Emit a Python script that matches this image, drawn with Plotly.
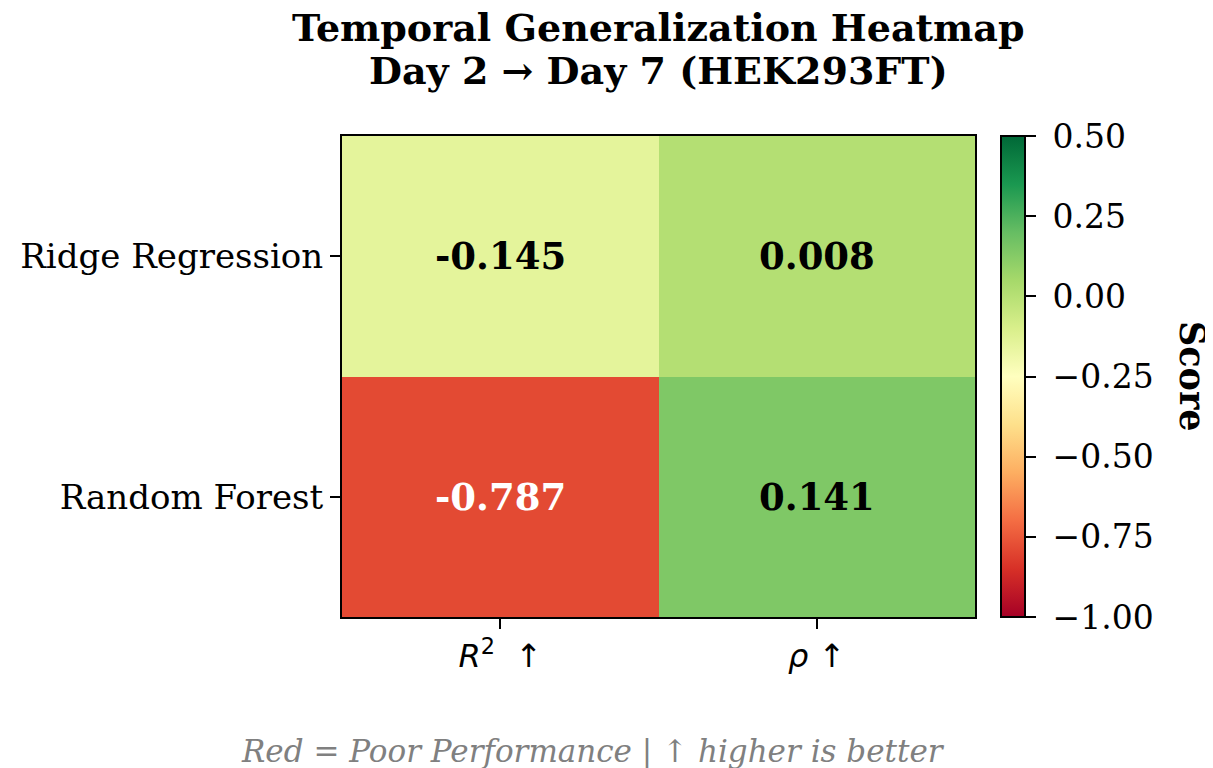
import plotly.graph_objects as go

# Data
models = ["Ridge Regression", "Random Forest"]
metrics = ["<i>R</i><sup>2</sup>  ↑", "<i>ρ</i> ↑"]
scores = [
    [-0.145, 0.008],
    [-0.787, 0.141],
]
cbar_ticks = [0.5, 0.25, 0.0, -0.25, -0.5, -0.75, -1.0]
title_lines = ["Temporal Generalization Heatmap", "Day 2 → Day 7 (HEK293FT)"]

SERIF = "DejaVu Serif"
OFF = 8  # page body margin
W, H = 1213, 768
L, R, T, B = 342 - OFF, 238 + OFF, 136 - OFF, 151 + OFF
plot_w = W - L - R
plot_h = H - T - B
TOP = 136  # screen y of plot top


def py(y):
    # screen y -> paper y
    return 1 - (y - TOP) / plot_h


def px_(x):
    return (x - 342) / plot_w


fig = go.Figure(go.Heatmap(
    z=scores,
    x=metrics,
    y=models,
    colorscale="RdYlGn",
    zmin=-1.0,
    zmax=0.5,
    colorbar=dict(
        x=px_(1001),
        xanchor="left",
        y=0.5,
        yanchor="middle",
        len=1.0,
        lenmode="fraction",
        thickness=24,
        thicknessmode="pixels",
        outlinecolor="black",
        outlinewidth=2,
        tickvals=cbar_ticks,
        ticktext=[" " + f"{v:.2f}".replace("-", "−") for v in cbar_ticks],
        ticks="outside",
        ticklen=10,
        tickwidth=2,
        tickcolor="black",
        tickfont=dict(family=SERIF, size=33, color="black"),
        xpad=0, ypad=0,
    ),
    hoverinfo="skip",
))

# cell values
for i, m in enumerate(models):
    for j, k in enumerate(metrics):
        v = scores[i][j]
        fig.add_annotation(
            x=k, y=m, text=f"<b>{v:.3f}</b>", showarrow=False,
            font=dict(family=SERIF, size=37, color="white" if v < -0.6 else "black"),
        )

# title, two lines
for line, yc in zip(title_lines, [27, 70]):
    fig.add_annotation(
        xref="paper", yref="paper", x=0.5, y=py(yc), xanchor="center", yanchor="middle",
        text=f"<b>{line}</b>", showarrow=False,
        font=dict(family=SERIF, size=38, color="black"),
    )

# colorbar label
fig.add_annotation(
    xref="paper", yref="paper", x=px_(1193), y=py(376), xanchor="center", yanchor="middle",
    text="<b>Score</b>", textangle=90, showarrow=False,
    font=dict(family=SERIF, size=35, color="black"),
)

# footnote
fig.add_annotation(
    xref="paper", yref="paper", x=px_(593), y=py(751), xanchor="center", yanchor="middle",
    text="<i>Red = Poor Performance | ↑ higher is better</i>", showarrow=False,
    font=dict(family=SERIF, size=31, color="gray"),
)

fig.update_layout(
    width=W, height=H,
    margin=dict(l=L, r=R, t=T, b=B),
    paper_bgcolor="white",
    plot_bgcolor="white",
    xaxis=dict(
        showline=True, linecolor="black", linewidth=2, mirror=True,
        ticks="outside", ticklen=10, tickwidth=2, tickcolor="black",
        tickfont=dict(family="DejaVu Sans", size=32, color="black"),
        showgrid=False, zeroline=False,
    ),
    yaxis=dict(
        autorange="reversed",
        showline=True, linecolor="black", linewidth=2, mirror=True,
        ticks="outside", ticklen=10, tickwidth=2, tickcolor="black",
        tickfont=dict(family=SERIF, size=34, color="black"),
        showgrid=False, zeroline=False,
    ),
)

fig.write_html("out.html")
